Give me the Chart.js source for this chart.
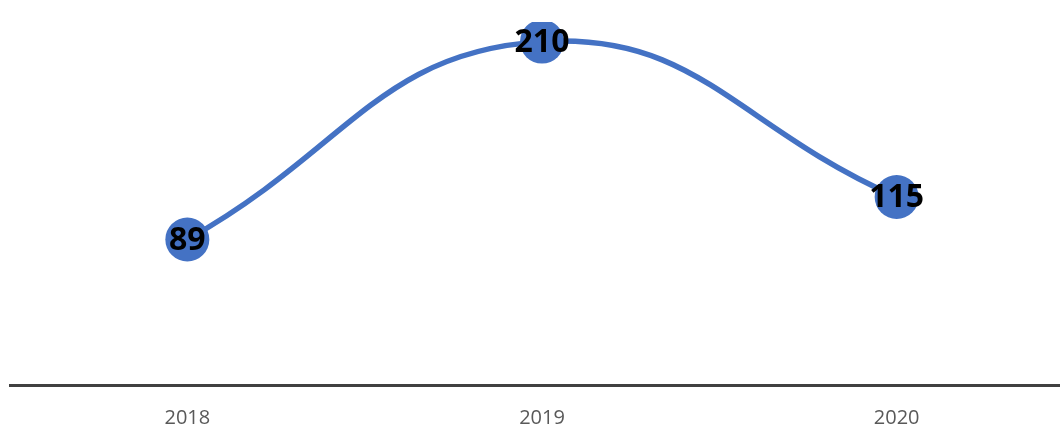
<!DOCTYPE html>
<html>
<head>
<meta charset="utf-8">
<script src="https://cdn.jsdelivr.net/npm/chart.js@4"></script>
<style>
  html, body { margin: 0; padding: 0; background: #fff; overflow: hidden; width: 1060px; height: 427px; }
  #wrap { position: relative; width: 1108px; height: 447px; margin-left: -12px; }
</style>
</head>
<body>
<div id="wrap"><canvas id="grafico"></canvas></div>
<script>
var anni = ["2018", "2019", "2020"];
var valori = [89, 210, 115];

// etichette dei valori sopra i punti
var etichette = {
    id: 'etichette',
    afterDatasetsDraw: function(chart) {
        var ctx = chart.ctx;
        var meta = chart.getDatasetMeta(0);
        ctx.save();
        ctx.font = 'bold 32px "Open Sans", "Liberation Sans", sans-serif';
        ctx.fillStyle = '#000';
        ctx.textAlign = 'center';
        ctx.textBaseline = 'middle';
        meta.data.forEach(function(p, i) {
            ctx.fillText(valori[i], p.x, p.y + 1);
        });
        ctx.restore();
    }
};

var ctx = document.getElementById("grafico");
var myChart = new Chart(ctx, {
    type: 'line',
    data: {
        labels: anni,
        datasets: [{
            data: valori,
            borderColor: '#4472C4',
            backgroundColor: '#4472C4',
            borderWidth: 5.5,
            tension: 0.45,
            pointRadius: 22,
            pointHoverRadius: 22,
            pointBorderWidth: 0,
            fill: false
        }]
    },
    options: {
        responsive: true,
        maintainAspectRatio: false,
        animation: false,
        layout: { padding: { top: 0, left: 0, right: 0, bottom: 4 } },
        plugins: { legend: { display: false }, tooltip: { enabled: false } },
        scales: {
            x: {
                offset: true,
                grid: { display: false },
                border: { display: true, color: '#404040', width: 3 },
                ticks: {
                    color: '#595959',
                    padding: 13,
                    font: { size: 20, family: '"Open Sans", "Liberation Sans", sans-serif' }
                }
            },
            y: {
                display: false,
                min: 0,
                max: 222
            }
        }
    },
    plugins: [etichette]
});
</script>
</body>
</html>
